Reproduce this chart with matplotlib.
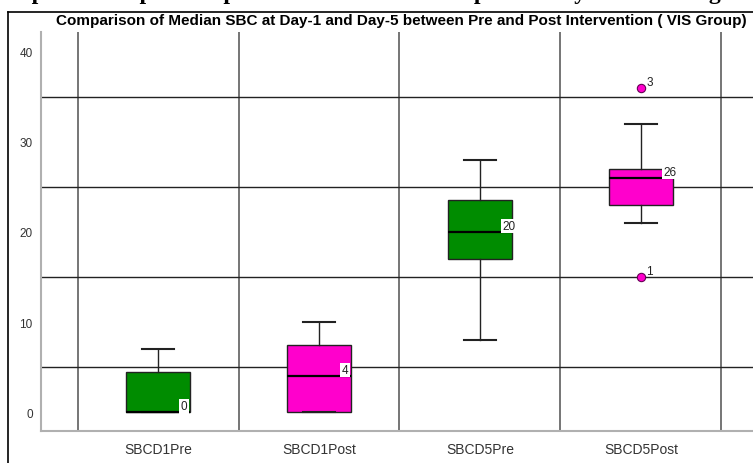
import matplotlib.pyplot as plt
from matplotlib.lines import Line2D
import numpy as np

# categories and box statistics
groups = ['SBCD1Pre', 'SBCD1Post', 'SBCD5Pre', 'SBCD5Post']
q1 = [0, 0, 17, 23]
med = [0, 4, 20, 26]
q3 = [4.5, 7.5, 23.5, 27]
whislo = [0, 0, 8, 21]
whishi = [7, 10, 28, 32]
outliers = [[], [], [], [36, 15]]
outlier_ids = [[], [], [], ['3', '1']]
colors = ['#008c00', '#ff00cc', '#008c00', '#ff00cc']

title = 'Comparison of Median SBC at Day-1 and Day-5 between Pre and Post Intervention ( VIS Group)'
top_text = 'Comparison of pre and post intervention for the pulmonary outcome in group'

plt.rcParams['font.family'] = ['Liberation Sans', 'DejaVu Sans']

fig = plt.figure(figsize=(7.53, 4.64), dpi=100)
ax = fig.add_axes([41 / 753, 32 / 464, 712 / 753, 399 / 464])

stats = []
for i in range(len(groups)):
    stats.append({'q1': q1[i], 'med': med[i], 'q3': q3[i],
                  'whislo': whislo[i], 'whishi': whishi[i],
                  'fliers': outliers[i]})

pos = np.arange(1, len(groups) + 1)
bp = ax.bxp(stats, positions=pos, widths=0.4, capwidths=0.2,
            patch_artist=True, showfliers=True,
            boxprops=dict(edgecolor='#222222', linewidth=1),
            medianprops=dict(color='black', linewidth=1.6),
            whiskerprops=dict(color='#222222', linewidth=1),
            capprops=dict(color='#222222', linewidth=1.5),
            flierprops=dict(marker='o', markersize=6, markerfacecolor='#ff00cc',
                            markeredgecolor='#660055', markeredgewidth=0.8))
for patch, c in zip(bp['boxes'], colors):
    patch.set_facecolor(c)

# median labels at the right edge of each box
for p, m in zip(pos, med):
    ax.text(p + 0.2 - 0.06, m, str(m), fontsize=8.5, ha='left', va='bottom',
            color='#222222', zorder=5,
            bbox=dict(facecolor='white', edgecolor='none', pad=1))

# outlier case numbers
for p, vals, ids in zip(pos, outliers, outlier_ids):
    for v, lab in zip(vals, ids):
        ax.annotate(lab, (p, v), xytext=(4, 2), textcoords='offset points',
                    fontsize=8.5, color='#222222')

ax.set_xlim(0.273, 4.696)
ax.set_ylim(-2.1, 42.2)
ax.set_xticks(pos)
ax.set_xticklabels(groups, color='#333333')
ax.set_yticks([0, 10, 20, 30, 40])
ax.tick_params(axis='both', length=0, colors='#333333')
ax.tick_params(axis='x', labelsize=10, pad=8)
ax.tick_params(axis='y', labelsize=8.5, pad=6)

ax.set_xticks(np.arange(0.5, len(groups) + 1), minor=True)
ax.set_yticks([5, 15, 25, 35], minor=True)
ax.tick_params(which='minor', length=0)
ax.grid(False)
ax.xaxis.grid(True, which='minor', color='#6a6a6a', linewidth=1.3)
ax.yaxis.grid(True, which='minor', color='#222222', linewidth=1)
ax.set_axisbelow(True)

for s in ['top', 'right']:
    ax.spines[s].set_visible(False)
for s in ['left', 'bottom']:
    ax.spines[s].set_color('#b0b0b0')
    ax.spines[s].set_linewidth(1.5)

fig.text(401 / 753, 1 - 21 / 464, title, ha='center', va='center',
         fontsize=11, fontweight='bold',
         family=['Liberation Sans Narrow', 'Liberation Sans', 'DejaVu Sans'])

# clipped heading above the frame: only descenders remain visible
fig.text(0.5, 1 + 1 / 464, top_text, ha='center', va='baseline',
         fontsize=17, fontweight='bold', family=['Liberation Serif', 'DejaVu Serif'])

# outer frame lines
fig.add_artist(Line2D([8 / 753, 8 / 753], [0, 1 - 13 / 464], color='black', linewidth=1.2))
fig.add_artist(Line2D([8 / 753, 1], [1 - 13 / 464, 1 - 13 / 464], color='black', linewidth=1.2))

fig.savefig('out.png', dpi=100)
